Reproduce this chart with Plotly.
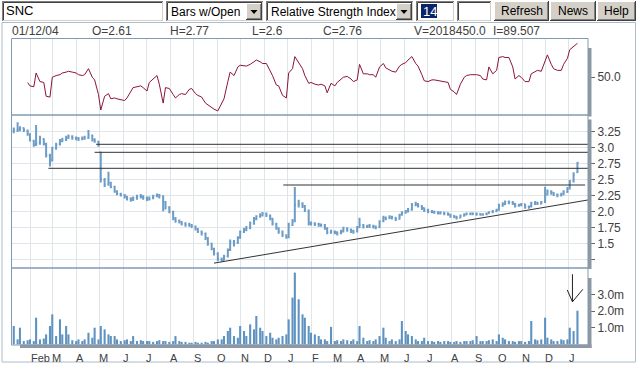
import plotly.graph_objects as go
import pandas as pd

# ---------------- data ----------------
close = [
3.27, 3.28, 3.30, 3.27, 3.22, 3.12, 3.04, 3.06, 3.14, 3.06,
2.88, 2.78, 2.98, 3.04, 3.10, 3.12, 3.15, 3.17, 3.15, 3.14,
3.13, 3.14, 3.15, 3.19, 3.12, 3.10, 3.04, 2.50, 2.42, 2.45,
2.385, 2.31, 2.27, 2.255, 2.23, 2.20, 2.18, 2.20, 2.24, 2.23,
2.21, 2.19, 2.20, 2.24, 2.255, 2.24, 2.15, 2.07, 1.995, 1.89,
1.85, 1.84, 1.81, 1.79, 1.79, 1.77, 1.73, 1.69, 1.655, 1.59,
1.50, 1.42, 1.345, 1.255, 1.24, 1.29, 1.395, 1.525, 1.50, 1.58,
1.68, 1.71, 1.735, 1.81, 1.88, 1.92, 1.94, 1.96, 1.94, 1.89,
1.81, 1.735, 1.68, 1.63, 1.59, 1.79, 1.84, 2.10, 2.125, 2.09,
2.02, 1.81, 1.81, 1.80, 1.79, 1.79, 1.735, 1.67, 1.68, 1.67,
1.655, 1.68, 1.735, 1.71, 1.69, 1.68, 1.745, 1.79, 1.76, 1.77,
1.77, 1.76, 1.745, 1.84, 1.90, 1.89, 1.915, 1.905, 1.88, 1.94,
1.98, 1.995, 2.02, 2.10, 2.11, 2.09, 2.05, 2.02, 1.995, 1.995,
1.985, 1.97, 1.98, 1.97, 1.955, 1.93, 1.915, 1.90, 1.93, 1.955,
1.965, 1.965, 1.965, 1.96, 1.955, 1.955, 1.965, 1.985, 1.995, 2.02,
2.09, 2.11, 2.14, 2.14, 2.125, 2.09, 2.10, 2.11, 2.07, 2.07,
2.125, 2.135, 2.125, 2.14, 2.255, 2.31, 2.29, 2.265, 2.255, 2.265,
2.30, 2.35, 2.46, 2.57, 2.76,
]
opens = [
3.25, 3.27, 3.28, 3.30, 3.26, 3.20, 3.10, 3.05, 3.07, 3.13,
3.05, 2.87, 2.80, 2.99, 3.05, 3.10, 3.12, 3.15, 3.17, 3.15,
3.14, 3.13, 3.14, 3.15, 3.18, 3.12, 3.09, 2.92, 2.48, 2.43,
2.44, 2.38, 2.31, 2.27, 2.25, 2.23, 2.20, 2.18, 2.21, 2.24,
2.23, 2.21, 2.19, 2.21, 2.24, 2.25, 2.23, 2.14, 2.06, 1.99,
1.88, 1.85, 1.83, 1.81, 1.79, 1.78, 1.76, 1.72, 1.68, 1.65,
1.58, 1.49, 1.41, 1.34, 1.25, 1.24, 1.30, 1.40, 1.52, 1.51,
1.59, 1.68, 1.71, 1.74, 1.81, 1.88, 1.92, 1.94, 1.96, 1.93,
1.88, 1.80, 1.73, 1.67, 1.62, 1.60, 1.79, 1.85, 2.11, 2.12,
2.08, 2.01, 1.82, 1.81, 1.80, 1.79, 1.78, 1.73, 1.67, 1.68,
1.67, 1.66, 1.69, 1.73, 1.71, 1.69, 1.69, 1.75, 1.78, 1.76,
1.77, 1.77, 1.76, 1.75, 1.85, 1.90, 1.89, 1.91, 1.90, 1.88,
1.95, 1.98, 2.00, 2.03, 2.10, 2.11, 2.08, 2.05, 2.02, 1.99,
1.99, 1.98, 1.97, 1.98, 1.97, 1.95, 1.93, 1.91, 1.90, 1.93,
1.95, 1.96, 1.97, 1.96, 1.96, 1.95, 1.96, 1.97, 1.99, 2.00,
2.03, 2.09, 2.11, 2.14, 2.14, 2.12, 2.09, 2.10, 2.11, 2.07,
2.08, 2.12, 2.13, 2.12, 2.15, 2.26, 2.31, 2.29, 2.26, 2.25,
2.27, 2.30, 2.36, 2.47, 2.61,
]
highs = [
3.31, 3.39, 3.33, 3.31, 3.28, 3.22, 3.12, 3.35, 3.18, 3.14,
3.07, 2.90, 3.01, 3.07, 3.13, 3.15, 3.18, 3.20, 3.19, 3.17,
3.16, 3.17, 3.18, 3.27, 3.20, 3.14, 3.10, 2.93, 2.52, 2.62,
2.46, 2.40, 2.33, 2.29, 2.27, 2.24, 2.22, 2.23, 2.26, 2.27,
2.25, 2.23, 2.23, 2.26, 2.28, 2.27, 2.25, 2.16, 2.08, 2.01,
1.91, 1.87, 1.85, 1.83, 1.82, 1.80, 1.78, 1.74, 1.70, 1.67,
1.60, 1.51, 1.43, 1.36, 1.28, 1.32, 1.42, 1.56, 1.55, 1.61,
1.70, 1.74, 1.77, 1.84, 1.91, 1.94, 1.97, 1.99, 1.98, 1.95,
1.90, 1.82, 1.75, 1.70, 1.64, 1.82, 1.88, 2.38, 2.18, 2.14,
2.10, 2.03, 1.84, 1.83, 1.82, 1.81, 1.80, 1.75, 1.71, 1.70,
1.69, 1.71, 1.76, 1.75, 1.73, 1.71, 1.77, 1.90, 1.80, 1.79,
1.80, 1.79, 1.78, 1.86, 1.93, 1.92, 1.94, 1.93, 1.91, 1.96,
2.00, 2.02, 2.05, 2.13, 2.15, 2.13, 2.10, 2.06, 2.04, 2.02,
2.01, 2.00, 2.00, 1.99, 1.98, 1.96, 1.94, 1.93, 1.95, 1.97,
1.98, 1.98, 1.98, 1.98, 1.97, 1.97, 1.98, 2.00, 2.02, 2.04,
2.12, 2.14, 2.17, 2.17, 2.16, 2.13, 2.12, 2.13, 2.12, 2.09,
2.15, 2.16, 2.15, 2.16, 2.385, 2.34, 2.33, 2.30, 2.28, 2.29,
2.33, 2.38, 2.49, 2.61, 2.77,
]
lows = [
3.22, 3.24, 3.25, 3.24, 3.18, 3.09, 3.01, 3.02, 3.04, 3.03,
2.84, 2.70, 2.78, 2.96, 3.03, 3.08, 3.10, 3.13, 3.12, 3.11,
3.10, 3.11, 3.12, 3.13, 3.09, 3.07, 3.01, 2.45, 2.38, 2.40,
2.36, 2.29, 2.25, 2.23, 2.20, 2.17, 2.15, 2.16, 2.18, 2.20,
2.18, 2.16, 2.17, 2.19, 2.22, 2.20, 2.00, 2.03, 1.97, 1.86,
1.82, 1.81, 1.78, 1.76, 1.76, 1.74, 1.70, 1.66, 1.62, 1.55,
1.46, 1.39, 1.31, 1.22, 1.21, 1.23, 1.28, 1.38, 1.45, 1.49,
1.57, 1.66, 1.69, 1.72, 1.79, 1.86, 1.90, 1.92, 1.91, 1.86,
1.78, 1.71, 1.65, 1.60, 1.57, 1.58, 1.77, 1.83, 2.06, 2.05,
1.99, 1.78, 1.78, 1.77, 1.76, 1.76, 1.71, 1.64, 1.65, 1.64,
1.62, 1.64, 1.67, 1.68, 1.66, 1.65, 1.67, 1.74, 1.73, 1.74,
1.74, 1.73, 1.72, 1.74, 1.83, 1.86, 1.88, 1.87, 1.85, 1.87,
1.93, 1.96, 1.98, 2.01, 2.08, 2.06, 2.02, 1.99, 1.97, 1.97,
1.96, 1.95, 1.95, 1.94, 1.93, 1.90, 1.89, 1.87, 1.89, 1.92,
1.94, 1.94, 1.94, 1.93, 1.93, 1.93, 1.94, 1.96, 1.97, 1.99,
2.01, 2.07, 2.10, 2.11, 2.10, 2.06, 2.07, 2.08, 2.04, 2.04,
2.06, 2.10, 2.10, 2.11, 2.13, 2.25, 2.26, 2.24, 2.22, 2.23,
2.25, 2.29, 2.34, 2.45, 2.60,
]
rsi = [
None, None, None, None, 43.8, 40, 39, 55, 45, 44,
28, 27, 50, 52, 53, 55, 56, 57, 56, 55,
53, 52, 53, 60, 50, 47, 30, 12, 28, 31,
25, 26, 25, 24, 23, 26, 33, 38, 39, 40,
38, 34, 44, 48, 52, 42, 20, 38, 37, 30,
26, 30, 31, 30, 36, 37, 31, 29, 27, 20,
18, 15, 13, 11, 20, 25, 45, 56, 52, 62,
64, 63, 63, 65, 68, 70, 68, 66, 66, 57,
52, 41, 40, 29, 26, 55, 60, 74, 67, 60,
52, 43, 44, 42, 41, 42, 40, 32, 43, 40,
44, 48, 50, 51, 48, 45, 47, 65, 54, 54,
53, 53, 50, 62, 66, 61, 58, 57, 56, 63,
65, 67, 70, 74, 66, 63, 53, 46, 45, 47,
47, 46, 46, 45, 44, 36, 33, 30, 42, 50,
52, 53, 53, 53, 52, 48, 47, 62, 54, 58,
73, 74, 73, 73, 62, 48, 52, 50, 45, 45,
54, 57, 58, 57, 70, 76, 65, 60, 58, 58,
65, 72, 82, 86, 89.507,
]
volume_m = [
1.1, 0.3, 1.0, 0.2, 0.25, 0.3, 0.2, 1.6, 0.3, 0.35,
0.6, 1.1, 1.8, 0.5, 1.5, 0.6, 1.1, 0.6, 0.25, 0.2,
0.3, 0.2, 0.3, 0.7, 0.4, 1.0, 0.3, 1.1, 0.9, 0.6,
0.5, 0.5, 0.3, 0.2, 0.25, 0.3, 0.2, 0.5, 0.2, 0.25,
0.2, 0.2, 0.2, 0.15, 0.2, 0.25, 0.2, 0.2, 0.15, 0.2,
0.5, 0.2, 0.15, 0.15, 0.1, 0.1, 0.15, 0.1, 0.1, 0.15,
0.1, 0.2, 0.2, 0.3, 0.3, 0.5, 0.8, 1.0, 0.5, 0.4,
1.1, 0.8, 0.5, 1.2, 0.9, 1.7, 1.0, 0.8, 0.5, 0.7,
0.4, 0.3, 0.4, 0.5, 0.6, 1.5, 2.8, 4.3, 2.7, 1.8,
1.6, 1.1, 0.7, 0.6, 0.5, 0.3, 0.3, 0.2, 1.05, 0.2,
0.25, 0.2, 0.3, 0.25, 0.2, 0.3, 0.2, 1.1, 0.4, 0.2,
0.25, 0.2, 0.3, 0.5, 1.0, 0.4, 0.2, 0.3, 0.2, 0.3,
1.4, 0.8, 0.6, 0.5, 0.3, 0.2, 0.2, 0.4, 0.2, 0.2,
0.15, 0.2, 0.15, 0.2, 0.2, 0.15, 0.15, 0.2, 0.15, 0.2,
0.2, 0.2, 0.25, 0.5, 0.2, 0.2, 0.2, 0.25, 0.3, 0.2,
0.6, 0.4, 0.3, 0.2, 0.2, 0.15, 0.2, 0.2, 0.15, 0.2,
1.4, 0.3, 0.25, 0.3, 1.6, 0.4, 0.3, 0.2, 0.2, 0.3,
0.25, 0.3, 1.0, 0.8, 2.018,
]
last_date = "2004-01-12"
month_labels = ["Feb", "M", "A", "M", "J", "J", "A", "S", "O", "N", "D", "J",
                "F", "M", "A", "M", "J", "J", "A", "S", "O", "N", "D", "J"]
price_ticks = [1.25, 1.5, 1.75, 2.0, 2.25, 2.5, 2.75, 3.0, 3.25]
price_ticktext = ["", "1.5", "1.75", "2.0", "2.25", "2.5", "2.75", "3.0", "3.25"]
vol_ticks = [1, 2, 3]
vol_ticktext = ["1.0m", "2.0m", "3.0m"]
rsi_ticks = [50]
rsi_ticktext = ["50.0"]
# user-drawn lines on the price panel: (start date, level)
h_levels = [("2002-04-27", 3.047), ("2002-04-25", 2.922), ("2002-02-24", 2.672)]
h_level_short = ("2002-12-26", "2004-01-22", 2.411)
trend = (("2002-09-27", 1.19), ("2004-01-25 17:00", 2.177))
header_items = [("01/12/04", 10), ("O=2.61", 90), ("H=2.77", 168), ("L=2.6", 250),
                ("C=2.76", 321), ("V=2018450.0", 412), ("I=89.507", 491)]

# ---------------- figure ----------------
dates = pd.date_range(end=last_date, periods=len(close), freq="3B")
month_starts = pd.date_range("2002-02-01", "2004-01-01", freq="MS")
XR = ["2002-01-07 17:00", "2004-01-25 17:00"]

PRICE_C = "#6d9dc7"
VOL_C = "#5e92c0"
RSI_C = "#8b1538"
FRAME_C = "#7f9bb3"
GRID_C = "#e0e5ea"
SHADOW_C = "#8c98a4"
TXT_C = "#404040"

L, R, T, B = 12, 50, 38, 20
W, H = 638, 365
PW, PH = W - L - R, H - T - B


def X(px):
    return (px - L) / PW


def Y(py):
    return (H - B - py) / PH


fig = go.Figure()
fig.add_trace(go.Scatter(x=dates, y=rsi, mode="lines", line=dict(color=RSI_C, width=1),
                         xaxis="x", yaxis="y", hoverinfo="skip", connectgaps=False))
fig.add_trace(go.Ohlc(x=dates, open=opens, high=highs, low=lows, close=close,
                      xaxis="x", yaxis="y2", tickwidth=0.5,
                      increasing=dict(line=dict(color=PRICE_C, width=2)),
                      decreasing=dict(line=dict(color=PRICE_C, width=2))))
fig.add_trace(go.Bar(x=dates, y=volume_m, xaxis="x", yaxis="y3",
                     marker=dict(color=VOL_C, line=dict(width=0))))

axis_font = dict(family="Arial", size=12, color=TXT_C)
yax_common = dict(side="right", anchor="x", ticks="outside", ticklen=6, tickcolor="#666666",
                  tickfont=axis_font, zeroline=False, showline=False, fixedrange=True)

d_v = (H - B - 268) / PH
d_p = (H - B - 115) / PH

fig.update_layout(
    width=W, height=H, margin=dict(l=L, r=R, t=T, b=B),
    paper_bgcolor="white", plot_bgcolor="white", showlegend=False, bargap=0.1,
    xaxis=dict(domain=[0, 1], range=XR, type="date", anchor="y3",
               tickvals=month_starts, showticklabels=False, ticks="",
               showgrid=True, gridcolor=GRID_C, gridwidth=1, zeroline=False,
               showline=False, rangeslider=dict(visible=False), fixedrange=True),
    yaxis=dict(domain=[d_p, 1], range=[6.2, 95.6], tickvals=rsi_ticks, ticktext=rsi_ticktext,
               showgrid=False, **yax_common),
    yaxis2=dict(domain=[d_v, d_p], range=[1.114, 3.505], tickvals=price_ticks,
                ticktext=price_ticktext, showgrid=True, gridcolor=GRID_C, **yax_common),
    yaxis3=dict(domain=[0, d_v], range=[-0.036, 4.575], tickvals=vol_ticks,
                ticktext=vol_ticktext, showgrid=False, **yax_common),
)

shapes = []
# user lines on price
for sd, lv in h_levels:
    shapes.append(dict(type="line", xref="x", yref="y2", x0=sd, x1=XR[1], y0=lv, y1=lv,
                       line=dict(color="#333333", width=1)))
shapes.append(dict(type="line", xref="x", yref="y2", x0=h_level_short[0], x1=h_level_short[1],
                   y0=h_level_short[2], y1=h_level_short[2], line=dict(color="#333333", width=1)))
shapes.append(dict(type="line", xref="x", yref="y2", x0=trend[0][0], y0=trend[0][1],
                   x1=trend[1][0], y1=trend[1][1], line=dict(color="#333333", width=1)))
# arrow in volume panel
arrow_x = "2004-01-05 12:00"
shapes.append(dict(type="line", xref="x", yref="y3", x0=arrow_x, x1=arrow_x, y0=4.2, y1=2.55,
                   line=dict(color="#222222", width=1)))
shapes.append(dict(type="line", xref="x", yref="y3", x0="2003-12-29 19:00", x1=arrow_x, y0=3.26, y1=2.55,
                   line=dict(color="#222222", width=1)))
shapes.append(dict(type="line", xref="x", yref="y3", x0="2004-01-19", x1=arrow_x, y0=3.30, y1=2.55,
                   line=dict(color="#222222", width=1)))


def prect(x0, y0, x1, y1, fill=None, line=None, lw=1):
    d = dict(type="rect", xref="paper", yref="paper", x0=X(x0), x1=X(x1), y0=Y(y1), y1=Y(y0),
             line=dict(width=lw if line else 0, color=line or "rgba(0,0,0,0)"))
    if fill:
        d["fillcolor"] = fill
    shapes.append(d)


def pline(x0, y0, x1, y1, color, lw=1):
    shapes.append(dict(type="line", xref="paper", yref="paper", x0=X(x0), x1=X(x1),
                       y0=Y(y0), y1=Y(y1), line=dict(color=color, width=lw)))


# outer frame
prect(2, 22.5, 635.5, 362, line="#a9bccb")
# panel frames
prect(11.5, 38.5, 588, 115, line=FRAME_C)
prect(11.5, 115, 588, 268, line=FRAME_C)
prect(11.5, 268, 588, 345, line=FRAME_C)
# shadow bars
prect(588, 48, 591.5, 116.5, fill=SHADOW_C)
prect(588, 119.5, 591.5, 269, fill=SHADOW_C)
prect(588, 278, 591.5, 348, fill=SHADOW_C)
prect(20, 344.5, 591.5, 348, fill=SHADOW_C)

# ---- toolbar widgets ----
def sunken(x0, y0, x1, y1):
    prect(x0, y0, x1, y1, fill="white")
    pline(x0, y0 + 0.5, x1, y0 + 0.5, "#808080")
    pline(x0 + 0.5, y0, x0 + 0.5, y1, "#808080")
    pline(x0 + 1.5, y0 + 1.5, x1 - 1, y0 + 1.5, "#404040")
    pline(x0 + 1.5, y0 + 1.5, x0 + 1.5, y1 - 1, "#404040")
    pline(x0, y1 - 0.5, x1, y1 - 0.5, "#ffffff")
    pline(x1 - 0.5, y0, x1 - 0.5, y1, "#ffffff")
    pline(x0 + 1, y1 - 1.5, x1 - 1, y1 - 1.5, "#d4d0c8")
    pline(x1 - 1.5, y0 + 1, x1 - 1.5, y1 - 1, "#d4d0c8")


def raised(x0, y0, x1, y1):
    prect(x0, y0, x1, y1, fill="#d4d0c8")
    pline(x0, y0 + 0.5, x1, y0 + 0.5, "#ffffff")
    pline(x0 + 0.5, y0, x0 + 0.5, y1, "#ffffff")
    pline(x0, y1 - 0.5, x1, y1 - 0.5, "#404040")
    pline(x1 - 0.5, y0, x1 - 0.5, y1, "#404040")
    pline(x0 + 1, y1 - 1.5, x1 - 1, y1 - 1.5, "#808080")
    pline(x1 - 1.5, y0 + 1, x1 - 1.5, y1 - 1, "#808080")


def arrow_btn(x0, y0, x1, y1):
    raised(x0, y0, x1, y1)
    cx, cy = (x0 + x1) / 2, (y0 + y1) / 2
    path = "M {} {} L {} {} L {} {} Z".format(X(cx - 3.5), Y(cy - 1.5), X(cx + 3.5), Y(cy - 1.5),
                                              X(cx), Y(cy + 2.5))
    shapes.append(dict(type="path", xref="paper", yref="paper", path=path,
                       fillcolor="black", line=dict(width=0)))


sunken(2, 1, 164, 22)
sunken(166, 1, 264, 22)
arrow_btn(246, 3, 262, 20)
sunken(266, 1, 414, 22)
arrow_btn(396, 3, 412, 20)
sunken(416, 1, 455, 22)
prect(421, 4, 437, 18, fill="#0a246a")
sunken(457, 1, 492, 22)
raised(494, 1, 549, 21)
raised(550, 1, 596, 21)
raised(597, 1, 636, 21)

annotations = []


def ptext(txt, px, py, size=12, color="black", anchor="left"):
    annotations.append(dict(text=txt, xref="paper", yref="paper", x=X(px), y=Y(py),
                            xanchor=anchor, yanchor="middle", showarrow=False,
                            font=dict(family="Arial", size=size, color=color)))


ptext("SNC", 4, 11, size=13)
ptext("Bars w/Open", 169, 12)
ptext("Relative Strength Index", 269, 12)
ptext("14", 421, 11.5, size=13, color="white")
ptext("Refresh", 521.5, 11.5, anchor="center")
ptext("News", 573, 11.5, anchor="center")
ptext("Help", 616.5, 11.5, anchor="center")
for txt, px in header_items:
    ptext(txt, px, 31.5, size=12, color=TXT_C)

ylab = Y(357.5)
for d, lab in zip(month_starts, month_labels):
    annotations.append(dict(text=lab, xref="x", yref="paper", x=d, y=ylab, xanchor="left",
                            yanchor="middle", showarrow=False, xshift=-2,
                            font=dict(family="Arial", size=11, color=TXT_C)))

fig.update_layout(shapes=shapes, annotations=annotations, hovermode=False)
fig.write_html("out.html", config={"displayModeBar": False, "staticPlot": True},
               post_script="document.body.style.margin='0px';")
